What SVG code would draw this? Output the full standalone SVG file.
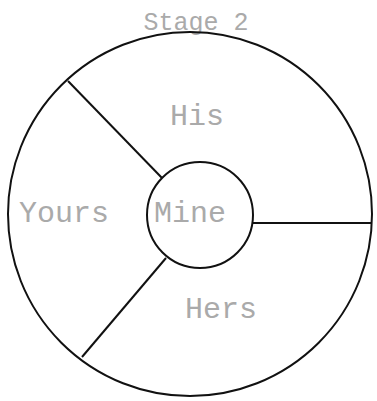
<svg xmlns="http://www.w3.org/2000/svg" width="377" height="401" viewBox="0 0 377 401">
<style>
.ln{fill:none;stroke:#111;stroke-width:2}
.t{font-family:"Liberation Mono","Courier New",monospace;fill:#aaaaaa;text-anchor:middle;font-size:30px}
.title{font-size:25px}
</style>
<rect width="377" height="401" fill="#fff"/>
<g id="title"><text class="t title" x="196" y="30">Stage 2</text></g>
<g id="outer"><circle class="ln" cx="190" cy="214" r="182"/></g>
<g id="connectors">
<line class="ln" x1="68" y1="81" x2="162" y2="178"/>
<line class="ln" x1="253" y1="223" x2="371" y2="223"/>
<line class="ln" x1="166" y1="258" x2="82" y2="357"/>
</g>
<g id="mine"><circle class="ln" cx="200" cy="215" r="53"/><text class="t" x="190" y="222">Mine</text></g>
<g id="his"><text class="t" x="197" y="125">His</text></g>
<g id="yours"><text class="t" x="64" y="222">Yours</text></g>
<g id="hers"><text class="t" x="221" y="318">Hers</text></g>
</svg>
